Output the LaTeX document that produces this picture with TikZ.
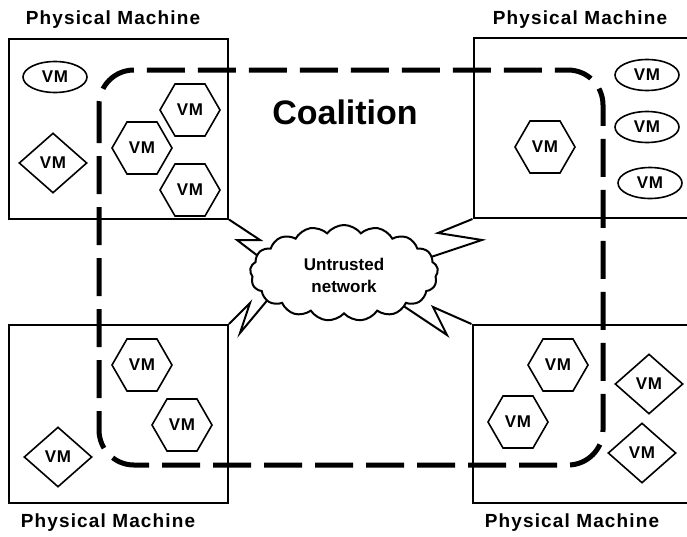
\documentclass[tikz,border=0pt]{standalone}
\usepackage{fontspec}
\setmainfont{Liberation Sans}
\usetikzlibrary{shapes.geometric,shapes.symbols,calc,backgrounds}
\newcommand{\pmfont}{\fontsize{19}{22}\selectfont\bfseries\addfontfeature{LetterSpace=6}}
\newcommand{\vmfont}{\fontsize{17}{18}\selectfont\bfseries\addfontfeature{LetterSpace=4}}
\tikzset{
  machine/.style={draw, line width=2pt, minimum width=219, minimum height=180, inner sep=0},
  pmlabel/.style={font=\pmfont, inner sep=0},
  vm/.style={draw, line width=1.6pt, fill=white, font=\vmfont, inner sep=0},
  hexvm/.style={vm, regular polygon, regular polygon sides=6, minimum size=60},
  ellvm/.style={vm, ellipse, minimum width=64, minimum height=31},
  diavm/.style={vm, diamond, minimum width=68, minimum height=60},
  bolt/.style={line width=2pt, line join=miter},
  coalition/.style={line width=5pt, dash pattern=on 38 off 13, rounded corners=35},
}
\begin{document}
\begin{tikzpicture}[x=1pt,y=-1pt]
\useasboundingbox (0,0) rectangle (687,536);
% machines
\node[machine] (tl) at (118.5,128.5) {};
\node[machine] (tr) at (583,128) {};
\node[machine, minimum height=178] (bl) at (118.5,414) {};
\node[machine, minimum height=178] (br) at (582,414) {};
% labels
\node[pmlabel] (ltl) at (113,20) {Physical Machine};
\node[pmlabel] (ltr) at (580,20) {Physical Machine};
\node[pmlabel] (lbl) at (108,523) {Physical Machine};
\node[pmlabel] (lbr) at (572,523) {Physical Machine};
% coalition
\draw[coalition] (99,70) rectangle (603,465);
\node[font=\fontsize{34}{38}\selectfont\bfseries, inner sep=0] (coal) at (345,112) {Coalition};
% cloud
\node[cloud, draw, line width=2pt, fill=white, cloud puffs=17, cloud puff arc=105,
      aspect=2.0, minimum width=188, minimum height=96, inner sep=0] (cloud) at (344,273) {};
\node[align=center, inner sep=0, font=\fontsize{17}{22}\selectfont\bfseries] (cloudtext) at (344,275) {Untrusted\\network};
% bolts
\begin{scope}[on background layer]
\draw[bolt] (tl.south east) -- (260,240) -- (237,240) -- ($(cloud.center)+(-69,-4)$);
\draw[bolt] (tr.south west) -- (438,233) -- (482,240) -- ($(cloud.center)+(81,-14)$);
\draw[bolt] (bl.north east) -- (250,303) -- (240,333) -- ($(cloud.center)+(-74,24)$);
\draw[bolt] (br.north west) -- (433,307) -- (447,335) -- ($(cloud.center)+(52,28)$);
\end{scope}
% VMs top-left
\node[ellvm] (v1) at (55,77) {VM};
\node[diavm] (v2) at (53,163) {VM};
\node[hexvm] (v3) at (190,110) {VM};
\node[hexvm] (v4) at (142,148) {VM};
\node[hexvm] (v5) at (190,190) {VM};
% VMs top-right
\node[hexvm] (v6) at (545,147) {VM};
\node[ellvm] (v7) at (647,75) {VM};
\node[ellvm] (v8) at (647,127) {VM};
\node[ellvm] (v9) at (650,183) {VM};
% VMs bottom-left
\node[hexvm] (v10) at (142,365) {VM};
\node[hexvm] (v11) at (182,425) {VM};
\node[diavm] (v12) at (58,457) {VM};
% VMs bottom-right
\node[hexvm] (v13) at (558,365) {VM};
\node[hexvm] (v14) at (518,422) {VM};
\node[diavm] (v15) at (649,384) {VM};
\node[diavm] (v16) at (642,453) {VM};
\end{tikzpicture}
\end{document}
